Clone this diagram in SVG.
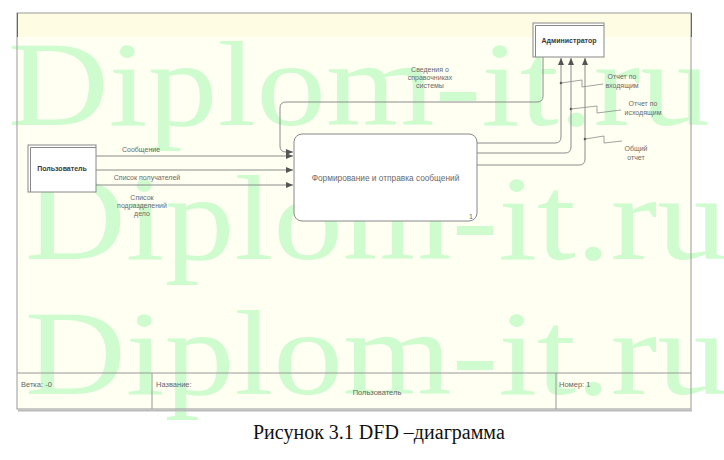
<svg xmlns="http://www.w3.org/2000/svg" width="724" height="460" viewBox="0 0 724 460">
<defs>
<style>
.lbl{font-family:"Liberation Sans",Arial,sans-serif;font-size:7px;fill:#6a6a6a;text-anchor:middle}
.ent{font-family:"Liberation Sans",Arial,sans-serif;font-size:7px;font-weight:bold;fill:#3a3a3a;text-anchor:middle}
.ft{font-family:"Liberation Sans",Arial,sans-serif;font-size:7.5px;fill:#666}
.wm{font-family:"Liberation Serif","Times New Roman",serif;font-size:121px;fill:#cffccf}
.ln{fill:none;stroke:#8c8c8c;stroke-width:1}
.lead{fill:none;stroke:#8c8c8c;stroke-width:0.8}
.box{fill:#fff;stroke:#888;stroke-width:1}
.dbl{fill:none;stroke:#888;stroke-width:1}
</style>
<marker id="ah" viewBox="0 0 10 10" refX="10" refY="5" markerWidth="7" markerHeight="6" markerUnits="userSpaceOnUse" orient="auto" preserveAspectRatio="none"><path d="M0,0 L10,5 L0,10 z" fill="#555"/></marker>
</defs>
<rect x="0" y="0" width="724" height="460" fill="#fff"/>
<g id="frame">
<rect x="17" y="13" width="674" height="396" fill="#fffff2"/>
<rect x="17" y="13" width="674" height="24" fill="#fffce4"/>
</g>
<g id="watermark">
<text class="wm" x="8" y="125" textLength="702" lengthAdjust="spacingAndGlyphs">Diplom-it.ru</text>
<text class="wm" x="25" y="259" textLength="702" lengthAdjust="spacingAndGlyphs">Diplom-it.ru</text>
<text class="wm" x="25" y="394" textLength="702" lengthAdjust="spacingAndGlyphs">Diplom-it.ru</text>
</g>
<g id="frame-lines">
<rect x="17" y="13" width="674" height="396" fill="none" stroke="#999" stroke-width="1"/>
<line x1="17.5" y1="13" x2="17.5" y2="37" stroke="#666" stroke-width="1"/>
<line x1="691.5" y1="13" x2="691.5" y2="37" stroke="#666" stroke-width="1"/>
<line x1="18" y1="410.5" x2="692" y2="410.5" stroke="#bbb" stroke-width="2"/>
<line x1="17" y1="373" x2="691" y2="373" stroke="#999" stroke-width="1"/>
<line x1="152" y1="373" x2="152" y2="409" stroke="#999" stroke-width="1"/>
<line x1="556" y1="373" x2="556" y2="409" stroke="#999" stroke-width="1"/>
<text class="ft" x="21" y="386.5">Ветка: -0</text>
<text class="ft" x="156" y="386.5">Название:</text>
<text class="ft" x="377" y="395" text-anchor="middle">Пользователь</text>
<text class="ft" x="559" y="386.5">Номер: 1</text>
</g>
<g id="connectors">
<path class="ln" d="M96,156 H293" marker-end="url(#ah)"/>
<path class="ln" d="M96,170 H293" marker-end="url(#ah)"/>
<path class="ln" d="M96,185 H293" marker-end="url(#ah)"/>
<path class="ln" d="M543,57 V96 Q543,102 537,102 H286 Q280,102 280,108 V146 Q280,152 286,152 H293" marker-end="url(#ah)"/>
<path class="ln" d="M477,143 H555 Q561,143 561,137 V58" marker-end="url(#ah)"/>
<path class="ln" d="M477,153 H565 Q571,153 571,147 V58" marker-end="url(#ah)"/>
<path class="ln" d="M477,165 H579 Q585,165 585,159 V58" marker-end="url(#ah)"/>
<circle cx="561" cy="83" r="1.3" fill="#555"/>
<circle cx="571" cy="109" r="1.3" fill="#555"/>
<circle cx="585" cy="139" r="1.3" fill="#555"/>
<path class="lead" d="M561,83 L582,80 L582,87 L603,84"/>
<path class="lead" d="M571,109 L597,106 L597,113 L621,110"/>
<path class="lead" d="M585,139 L604,136 L604,143 L622,141"/>
<text class="lbl" x="141" y="151.5">Сообщение</text>
<text class="lbl" x="147" y="179.5">Список получателей</text>
<text class="lbl" x="142" y="199.5">Список</text>
<text class="lbl" x="142" y="207.5">подразделений</text>
<text class="lbl" x="142" y="215.5">дело</text>
<text class="lbl" x="430" y="71.5">Сведения о</text>
<text class="lbl" x="430" y="79.5">справочниках</text>
<text class="lbl" x="430" y="87.5">системы</text>
<text class="lbl" x="622" y="78.5">Отчет по</text>
<text class="lbl" x="622" y="87.5">входящим</text>
<text class="lbl" x="643" y="105.5">Отчет по</text>
<text class="lbl" x="643" y="114.5">исходящим</text>
<text class="lbl" x="636" y="150.5">Общий</text>
<text class="lbl" x="636" y="159.5">отчет</text>
</g>
<g id="node-user">
<rect class="box" x="28" y="145" width="68" height="47"/>
<path class="dbl" d="M30.5,192 V147.5 H96"/>
<text class="ent" x="62" y="170.5">Пользователь</text>
</g>
<g id="node-admin">
<rect class="box" x="533" y="23" width="71" height="34"/>
<path class="dbl" d="M535.5,57 V25.5 H604"/>
<text class="ent" x="569" y="42.5">Администратор</text>
</g>
<g id="node-process">
<rect class="box" x="294" y="134" width="183" height="87" rx="8" ry="8"/>
<text class="lbl" x="385.5" y="181" style="font-size:8.3px">Формирование и отправка сообщений</text>
<text class="lbl" x="471" y="219">1</text>
</g>
<text x="253" y="439" font-family="Liberation Serif,'Times New Roman',serif" font-size="20" fill="#111">Рисунок 3.1 DFD –диаграмма</text>
</svg>
